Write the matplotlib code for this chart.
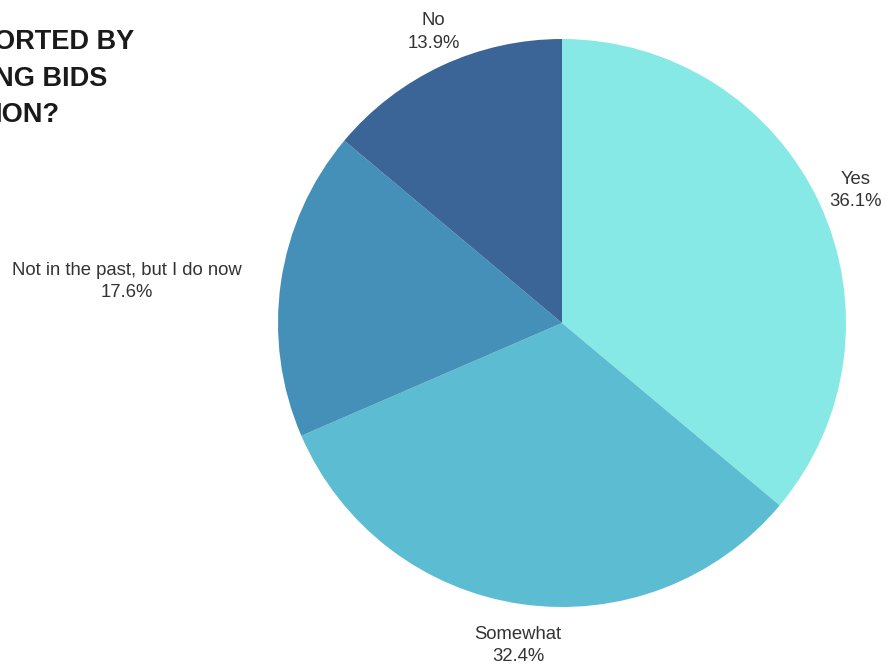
import matplotlib.pyplot as plt
import numpy as np

# survey answers, clockwise from 12 o'clock
answers = ["Yes", "Somewhat", "Not in the past, but I do now", "No"]
shares = [36.1, 32.4, 17.6, 13.9]
colors = ["#87e9e6", "#5cbdd2", "#4590b8", "#3a6596"]

title_lines = ["ORTED BY", "NG BIDS", "ION?"]

plt.rcParams['font.family'] = ['Liberation Sans', 'DejaVu Sans']

W, H = 887, 668
fig = plt.figure(figsize=(W / 100, H / 100), dpi=100)
fig.patch.set_facecolor('white')
ax = fig.add_axes([0, 0, 1, 1])

cx, cy, r = 562, H - 323, 284
wedges, _ = ax.pie(shares, colors=colors, startangle=90, counterclock=False,
                   center=(cx, cy), radius=r, frame=True,
                   wedgeprops=dict(linewidth=0))
ax.set_xlim(0, W)
ax.set_ylim(0, H)
ax.set_aspect('equal')
ax.axis('off')

# labels just outside each slice
for w, name, val in zip(wedges, answers, shares):
    mid = np.deg2rad((w.theta1 + w.theta2) / 2)
    c, s = np.cos(mid), np.sin(mid)
    d = r * 1.07
    x, y = cx + d * c, cy + d * s
    if abs(c) > 0.5:
        ha = 'left' if c > 0 else 'right'
        va = 'center'
        x += -8 if c > 0 else -20
        y += 4 if c > 0 else -2
    else:
        ha = 'center'
        va = 'bottom' if s > 0 else 'top'
        y += -4 if s > 0 else -2
    ax.text(x, y, f"{name}\n{val:.1f}%", ha=ha, va=va, ma='center',
            fontsize=13.3, color='#333333', linespacing=1.42)

# heading, partly outside the left edge
for i, line in enumerate(title_lines):
    fig.text(-6 / W, 1 - (49 + i * 36.5) / H, line, ha='left', va='baseline',
             fontsize=19.5, fontweight='bold', color='#1a1a1a')

fig.savefig("out.png", dpi=100, facecolor='white')
